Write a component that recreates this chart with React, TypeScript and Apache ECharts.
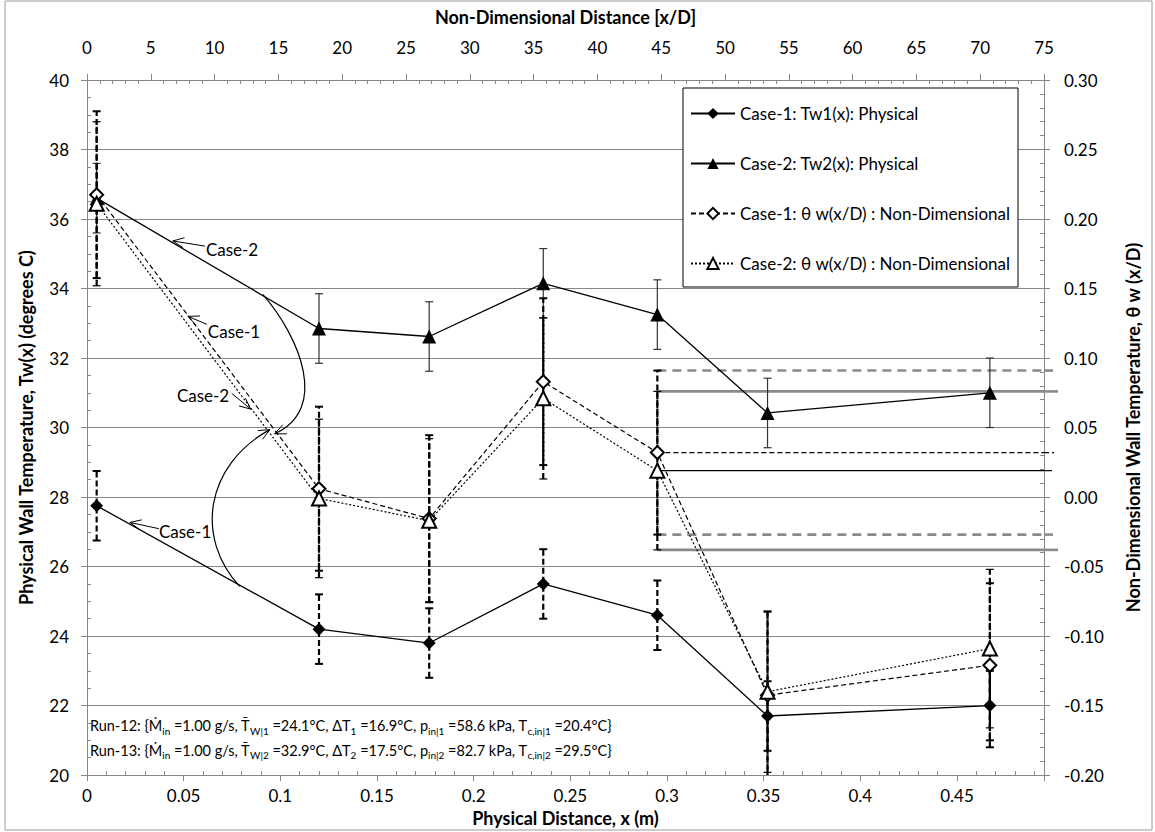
import React, { useEffect, useRef } from "react";
import * as echarts from "echarts";

const FONT = "Lato, 'Open Sans', 'DejaVu Sans', sans-serif";
const GRAY = "#868686";

// ---- data (x in metres; Tw in degC; theta non-dimensional) ----
const xPos = [0.005, 0.12, 0.177, 0.236, 0.295, 0.352, 0.467];
const tw1 = [27.75, 24.2, 23.8, 25.5, 24.6, 21.7, 22.0];
const tw1Err = [1.0, 1.0, 1.0, 1.0, 1.0, 1.0, 1.0];
const tw2 = [36.6, 32.85, 32.62, 34.15, 33.25, 30.42, 31.0];
const tw2Err = [1.0, 1.0, 1.0, 1.0, 1.0, 1.0, 1.0];
const theta1 = [0.2175, 0.006, -0.0155, 0.083, 0.032, -0.1425, -0.121];
const theta1Err = [0.06, 0.059, 0.06, 0.06, 0.059, 0.06, 0.059];
const theta2 = [0.211, -0.001, -0.017, 0.071, 0.019, -0.14, -0.109];
const theta2Err = [0.059, 0.057, 0.059, 0.058, 0.057, 0.058, 0.057];
const refIndex = 4; // location whose theta band is extended to the right
const xMax = 0.495;

const seriesNames = [
  "Case-1: Tw1(x): Physical",
  "Case-2: Tw2(x): Physical",
  "Case-1: \u03B8 w(x/D) : Non-Dimensional",
  "Case-2: \u03B8 w(x/D) : Non-Dimensional",
];

const runLabels = [
  "Run-12: {\u1E40{s|in} =1.00 g/s, T\u0304{s|W|1} =24.1\u00B0C, \u0394T{s|1} =16.9\u00B0C, p{s|in|1} =58.6 kPa, T{s|c,in|1} =20.4\u00B0C}",
  "Run-13: {\u1E40{s|in} =1.00 g/s, T\u0304{s|W|2} =32.9\u00B0C, \u0394T{s|2} =17.5\u00B0C, p{s|in|2} =82.7 kPa, T{s|c,in|2} =29.5\u00B0C}",
];

// ---- annotation anchors (data coordinates: [x m, Tw degC]) ----
const annoTexts = [
  { label: "Case-2", at: [0.0615, 35.13] },
  { label: "Case-1", at: [0.0625, 32.76] },
  { label: "Case-2", at: [0.0465, 30.92] },
  { label: "Case-1", at: [0.0372, 27.0] },
];
const annoArrows = [
  { from: [0.061, 35.22], to: [0.0444, 35.37] },
  { from: [0.062, 32.97], to: [0.0522, 33.2] },
  { from: [0.0749, 30.98], to: [0.0847, 30.53] },
  { from: [0.0372, 27.09], to: [0.0222, 27.27] },
];
const annoCurves = [
  { p0: [0.0909, 33.83], c1: [0.11, 32.61], c2: [0.1255, 30.53], p3: [0.0971, 29.82] },
  { p0: [0.079, 25.43], c1: [0.0558, 26.82], c2: [0.061, 28.9], p3: [0.0945, 29.94] },
];

const GRAY_DASH = { color: "#8a8a8a", width: 2.6, type: [9, 6] };
const GRAY_SOLID = { color: "#8a8a8a", width: 2.6, type: "solid" };
const BLACK_DASH = { color: "#000", width: 1.2, type: [5, 3] };
const BLACK_SOLID = { color: "#000", width: 1.2, type: "solid" };

const refLevels = [
  { v: theta1[refIndex] + theta1Err[refIndex], st: GRAY_DASH, ext: 11 },
  { v: theta2[refIndex] + theta2Err[refIndex], st: GRAY_SOLID, ext: 14 },
  { v: theta1[refIndex], st: BLACK_DASH, ext: 10 },
  { v: theta2[refIndex], st: BLACK_SOLID, ext: 8 },
  { v: theta1[refIndex] - theta1Err[refIndex], st: GRAY_DASH, ext: 11 },
  { v: theta2[refIndex] - theta2Err[refIndex], st: GRAY_SOLID, ext: 14 },
];

function errorBarSeries(yAxisIndex: number, centers: number[], errs: number[], o: any) {
  return {
    type: "custom",
    yAxisIndex,
    z: 3,
    silent: true,
    clip: true,
    data: xPos.map((x, i) => [x, centers[i] - errs[i], centers[i] + errs[i]]),
    encode: { x: 0, y: [1, 2] },
    renderItem: (params: any, api: any) => {
      const lo = api.coord([api.value(0), api.value(1)]);
      const hi = api.coord([api.value(0), api.value(2)]);
      const w = o.cap;
      return {
        type: "group",
        children: [
          { type: "line", shape: { x1: lo[0], y1: lo[1], x2: hi[0], y2: hi[1] }, style: { stroke: o.color, lineWidth: o.width, lineDash: o.dash } },
          { type: "line", shape: { x1: lo[0] - w, y1: lo[1], x2: lo[0] + w, y2: lo[1] }, style: { stroke: o.color, lineWidth: o.capWidth } },
          { type: "line", shape: { x1: hi[0] - w, y1: hi[1], x2: hi[0] + w, y2: hi[1] }, style: { stroke: o.color, lineWidth: o.capWidth } },
        ],
      };
    },
  };
}

function refLine(value: number, style: any) {
  return {
    type: "line",
    yAxisIndex: 1,
    silent: true,
    z: 2,
    symbol: "none",
    data: [[xPos[refIndex], value], [xMax, value]],
    lineStyle: style,
  };
}

function arrowHead(h: number[], f: number[], len = 11, half = 5) {
  const dx = h[0] - f[0];
  const dy = h[1] - f[1];
  const L = Math.hypot(dx, dy) || 1;
  const ux = dx / L, uy = dy / L;
  const px = -uy, py = ux;
  return {
    type: "polyline",
    shape: {
      points: [
        [h[0] - len * ux + half * px, h[1] - len * uy + half * py],
        [h[0], h[1]],
        [h[0] - len * ux - half * px, h[1] - len * uy - half * py],
      ],
    },
    style: { stroke: "#000", fill: "none", lineWidth: 1 },
    z: 100,
  };
}

export default function App() {
  const ref = useRef<HTMLDivElement>(null);
  useEffect(() => {
    document.body.style.margin = "0";
    const chart = echarts.init(ref.current!, null, { renderer: "svg" });
    const axisTitle = { fontSize: 18, fontWeight: "bold", color: "#000", fontFamily: FONT };
    const tickLabel = { fontSize: 17, color: "#000", fontFamily: FONT };
    const option: any = {
      animation: false,
      backgroundColor: "#fff",
      textStyle: { fontFamily: FONT },
      grid: { left: 87, right: 111, top: 80, bottom: 50 },
      legend: {
        orient: "vertical",
        left: 683,
        top: 88,
        data: seriesNames,
        itemWidth: 44,
        itemHeight: 14,
        itemGap: 33,
        padding: [17, 8, 15, 7],
        borderColor: "#000",
        borderWidth: 1,
        backgroundColor: "#fff",
        textStyle: { fontSize: 17, color: "#000", fontFamily: FONT },
        selectedMode: false,
      },
      xAxis: [
        {
          type: "value",
          position: "bottom",
          min: 0,
          max: xMax,
          interval: 0.05,
          axisLine: { show: true, onZero: false, lineStyle: { color: GRAY } },
          axisTick: { show: true, length: 6, lineStyle: { color: GRAY } },
          minorTick: { show: true, splitNumber: 5, length: -4, lineStyle: { color: GRAY } },
          axisLabel: { ...tickLabel, margin: 12, showMaxLabel: false },
          splitLine: { show: false },
          name: "Physical Distance, x (m)",
          nameLocation: "middle",
          nameGap: 31,
          nameTextStyle: axisTitle,
        },
        {
          type: "value",
          position: "top",
          min: 0,
          max: 75,
          interval: 5,
          axisLine: { show: true, onZero: false, lineStyle: { color: GRAY } },
          axisTick: { show: true, length: 6, lineStyle: { color: GRAY } },
          minorTick: { show: true, splitNumber: 5, length: -4, lineStyle: { color: GRAY } },
          axisLabel: { ...tickLabel, margin: 24 },
          splitLine: { show: false },
          name: "Non-Dimensional Distance [x/D]",
          nameLocation: "middle",
          nameGap: 54,
          nameTextStyle: axisTitle,
        },
      ],
      yAxis: [
        {
          type: "value",
          position: "left",
          min: 20,
          max: 40,
          interval: 2,
          axisLine: { show: true, onZero: false, lineStyle: { color: GRAY } },
          axisTick: { show: true, length: 6, lineStyle: { color: GRAY } },
          minorTick: { show: true, splitNumber: 4, length: -4, lineStyle: { color: GRAY } },
          axisLabel: { ...tickLabel, margin: 18 },
          splitLine: { show: true, lineStyle: { color: GRAY, width: 1 } },
          name: "Physical Wall Temperature, Tw(x) (degrees C)",
          nameLocation: "middle",
          nameGap: 52,
          nameRotate: 90,
          nameTextStyle: axisTitle,
        },
        {
          type: "value",
          position: "right",
          min: -0.2,
          max: 0.3,
          interval: 0.05,
          axisLine: { show: true, onZero: false, lineStyle: { color: GRAY } },
          axisTick: { show: true, length: 6, lineStyle: { color: GRAY } },
          minorTick: { show: true, splitNumber: 5, length: -4, lineStyle: { color: GRAY } },
          axisLabel: { ...tickLabel, margin: 20, formatter: (v: number) => v.toFixed(2) },
          splitLine: { show: false },
          name: "Non-Dimensional Wall Temperature, \u03B8 w (x/D)",
          nameLocation: "middle",
          nameGap: 80,
          nameRotate: 90,
          nameTextStyle: axisTitle,
        },
      ],
      series: [
        ...refLevels.map((r) => refLine(r.v, r.st)),
        errorBarSeries(0, tw1, tw1Err, { color: "#000", width: 2.2, dash: [6, 3], cap: 4, capWidth: 2 }),
        errorBarSeries(0, tw2, tw2Err, { color: "#333", width: 1.2, dash: null, cap: 4, capWidth: 1.2 }),
        errorBarSeries(1, theta1, theta1Err, { color: "#000", width: 2.2, dash: [6, 3], cap: 4, capWidth: 2 }),
        errorBarSeries(1, theta2, theta2Err, { color: "#000", width: 2.2, dash: [6, 3], cap: 4, capWidth: 1.2 }),
        {
          name: seriesNames[0],
          type: "line",
          z: 6,
          data: xPos.map((x, i) => [x, tw1[i]]),
          symbol: "diamond",
          symbolSize: 13,
          itemStyle: { color: "#000" },
          lineStyle: { color: "#000", width: 1.3 },
        },
        {
          name: seriesNames[1],
          type: "line",
          z: 6,
          data: xPos.map((x, i) => [x, tw2[i]]),
          symbol: "triangle",
          symbolSize: 14,
          itemStyle: { color: "#000" },
          lineStyle: { color: "#000", width: 1.3 },
        },
        {
          name: seriesNames[2],
          type: "line",
          z: 7,
          yAxisIndex: 1,
          data: xPos.map((x, i) => [x, theta1[i]]),
          symbol: "diamond",
          symbolSize: 13,
          itemStyle: { color: "#fff", borderColor: "#000", borderWidth: 2 },
          lineStyle: { color: "#000", width: 1.2, type: [5, 3] },
        },
        {
          name: seriesNames[3],
          type: "line",
          z: 7,
          yAxisIndex: 1,
          data: xPos.map((x, i) => [x, theta2[i]]),
          symbol: "triangle",
          symbolSize: 14,
          itemStyle: { color: "#fff", borderColor: "#000", borderWidth: 2 },
          lineStyle: { color: "#000", width: 1.2, type: [2, 2] },
        },
      ],
    };
    chart.setOption(option);

    const P = (d: number[]) => chart.convertToPixel({ xAxisIndex: 0, yAxisIndex: 0 }, d) as number[];
    const PT = (d: number[]) => chart.convertToPixel({ xAxisIndex: 0, yAxisIndex: 1 }, d) as number[];
    const graphics: any[] = [];
    graphics.push({
      type: "rect",
      shape: { x: 5, y: 1, width: 1147, height: 829 },
      style: { stroke: "#9a9a9a", fill: "none", lineWidth: 1 },
      z: 0,
      silent: true,
    });
    // small overhang of the reference band lines past the right axis
    refLevels.forEach((r) => {
      const p = PT([xMax, r.v]);
      const dash = Array.isArray(r.st.type) ? r.st.type : null;
      graphics.push({
        type: "line",
        z: 2,
        shape: { x1: p[0], y1: p[1], x2: p[0] + r.ext, y2: p[1] },
        style: { stroke: r.st.color, lineWidth: r.st.width, lineDash: dash },
      });
    });
    annoTexts.forEach((a) => {
      const p = P(a.at);
      graphics.push({
        type: "text",
        x: p[0],
        y: p[1],
        z: 100,
        style: { text: a.label, fontSize: 17, fontFamily: FONT, fill: "#000", align: "left", verticalAlign: "middle" },
      });
    });
    annoArrows.forEach((a) => {
      const f = P(a.from);
      const t = P(a.to);
      graphics.push({ type: "line", z: 100, shape: { x1: f[0], y1: f[1], x2: t[0], y2: t[1] }, style: { stroke: "#000", lineWidth: 1 } });
      graphics.push(arrowHead(t, f));
    });
    annoCurves.forEach((c) => {
      const p0 = P(c.p0), c1 = P(c.c1), c2 = P(c.c2), p3 = P(c.p3);
      graphics.push({
        type: "bezierCurve",
        z: 100,
        shape: { x1: p0[0], y1: p0[1], cpx1: c1[0], cpy1: c1[1], cpx2: c2[0], cpy2: c2[1], x2: p3[0], y2: p3[1] },
        style: { stroke: "#000", lineWidth: 1.2, fill: "none" },
      });
      graphics.push(arrowHead(p3, c2));
    });
    const r1 = P([0.0015, 21.42]);
    const r2 = P([0.0015, 20.71]);
    [r1, r2].forEach((p, i) => {
      graphics.push({
        type: "text",
        x: p[0],
        y: p[1],
        z: 100,
        style: {
          text: runLabels[i],
          fontSize: 14.5,
          fontFamily: FONT,
          fill: "#000",
          align: "left",
          verticalAlign: "middle",
          lineHeight: 20,
          rich: {
            s: { fontSize: 10, fontFamily: FONT, fill: "#000", verticalAlign: "bottom", lineHeight: 20 },
          },
        },
      });
    });
    chart.setOption({ graphic: graphics });
    return () => chart.dispose();
  }, []);
  return <div ref={ref} style={{ width: 1155, height: 832 }} />;
}
